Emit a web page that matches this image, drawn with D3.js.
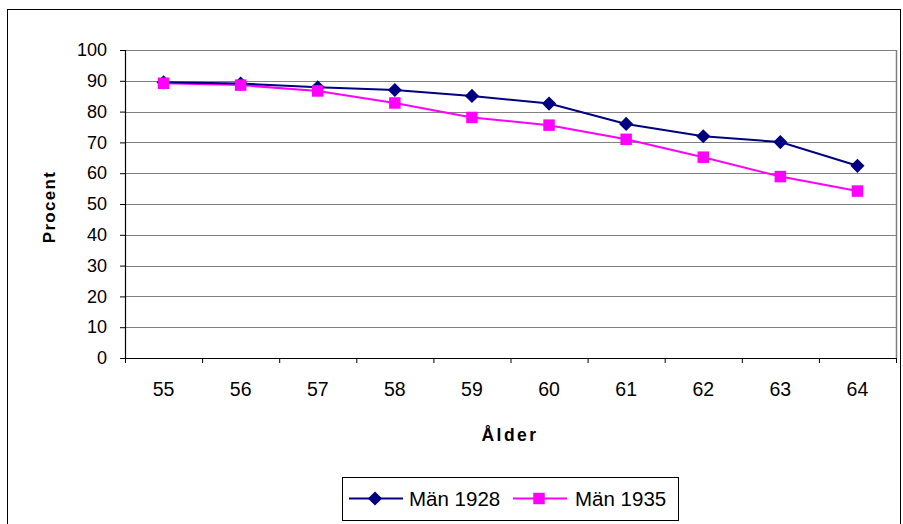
<!DOCTYPE html>
<html>
<head>
<meta charset="utf-8">
<script src="https://cdn.jsdelivr.net/npm/d3@7"></script>
<style>
  html, body { margin: 0; padding: 0; background: #fff; }
  svg { display: block; font-family: "Liberation Sans", Arial, sans-serif; }
</style>
</head>
<body>
<svg id="chart" width="903" height="524"></svg>
<script>
// Andel i arbetskraften per ålder, två födelsekohorter
const ages = [55, 56, 57, 58, 59, 60, 61, 62, 63, 64];
const man1928 = [89.5, 89.1, 87.9, 87.0, 85.1, 82.6, 76.0, 72.0, 70.1, 62.4];
const man1935 = [89.2, 88.6, 86.7, 82.8, 78.1, 75.6, 71.0, 65.2, 58.9, 54.2];
const yTicks = [0, 10, 20, 30, 40, 50, 60, 70, 80, 90, 100];
const seriesNames = ["Män 1928", "Män 1935"];

const svg = d3.select("#chart");
const W = 903, H = 524;
const plot = { left: 125, right: 896, top: 50, bottom: 358 };

// outer frame
svg.append("rect")
  .attr("x", 7.5).attr("y", 9.5)
  .attr("width", W - 10).attr("height", H)
  .attr("fill", "none").attr("stroke", "#000").attr("stroke-width", 1);

const x = d3.scaleBand().domain(ages).range([plot.left, plot.right]).padding(0);
const y = d3.scaleLinear().domain([0, 100]).range([plot.bottom, plot.top]);

// gridlines
svg.append("g").selectAll("line").data(yTicks.filter(t => t > 0)).join("line")
  .attr("x1", plot.left).attr("x2", plot.right)
  .attr("y1", d => Math.round(y(d)) + 0.5).attr("y2", d => Math.round(y(d)) + 0.5)
  .attr("stroke", "#808080").attr("stroke-width", 1);

// right edge of plot area
svg.append("line")
  .attr("x1", plot.right + 0.5).attr("x2", plot.right + 0.5)
  .attr("y1", plot.top).attr("y2", plot.bottom)
  .attr("stroke", "#808080").attr("stroke-width", 1.5);

// y axis
const yAxis = svg.append("g")
  .attr("transform", `translate(${plot.left},0)`)
  .call(d3.axisLeft(y).tickValues(yTicks).tickSize(5).tickPadding(13).tickFormat(d3.format("d")));
yAxis.select(".domain").attr("stroke", "#000").attr("stroke-width", 1.2);
yAxis.selectAll(".tick line").attr("stroke", "#000");
yAxis.selectAll("text").attr("font-size", 18).attr("fill", "#000")
  .attr("font-family", "Liberation Sans, Arial, sans-serif");

// x axis: ticks at category boundaries
const xAxisG = svg.append("g").attr("transform", `translate(0,${plot.bottom})`);
xAxisG.append("line")
  .attr("x1", plot.left).attr("x2", plot.right + 1)
  .attr("y1", 0.5).attr("y2", 0.5)
  .attr("stroke", "#000").attr("stroke-width", 1.2);
const bounds = ages.map(a => x(a)).concat([plot.right]);
xAxisG.selectAll("line.tk").data(bounds).join("line").attr("class", "tk")
  .attr("x1", d => d + 0.5).attr("x2", d => d + 0.5)
  .attr("y1", 0).attr("y2", 5)
  .attr("stroke", "#000");
xAxisG.selectAll("text").data(ages).join("text")
  .attr("x", d => x(d) + x.bandwidth() / 2)
  .attr("y", 38)
  .attr("text-anchor", "middle")
  .attr("font-size", 19.5)
  .attr("fill", "#000")
  .text(d => d);

// axis titles
svg.append("text")
  .attr("transform", `translate(55,207) rotate(-90)`)
  .attr("text-anchor", "middle")
  .attr("font-size", 17).attr("font-weight", "bold")
  .attr("letter-spacing", 1.3)
  .text("Procent");
svg.append("text")
  .attr("x", 510)
  .attr("y", 441)
  .attr("text-anchor", "middle")
  .attr("font-size", 17.5).attr("font-weight", "bold")
  .attr("letter-spacing", 2.5)
  .text("Ålder");

const cx = a => x(a) + x.bandwidth() / 2;
const line = d3.line().x(d => cx(d.age)).y(d => y(d.v));

// diamond = square turned 45°
const series = [
  { name: seriesNames[0], values: man1928, color: "#000080", size: 100, rot: 45 },
  { name: seriesNames[1], values: man1935, color: "#FF00FF", size: 132, rot: 0 }
];
const marker = d3.symbol().type(d3.symbolSquare);

// draw 1935 first so 1928 line sits on top where they overlap
[series[1], series[0]].forEach(s => {
  const pts = ages.map((a, i) => ({ age: a, v: s.values[i] }));
  svg.append("path").datum(pts)
    .attr("d", line)
    .attr("fill", "none").attr("stroke", s.color).attr("stroke-width", 2);
});
[series[0], series[1]].forEach(s => {
  const pts = ages.map((a, i) => ({ age: a, v: s.values[i] }));
  svg.append("g").selectAll("path").data(pts).join("path")
    .attr("transform", d => `translate(${cx(d.age)},${y(d.v)}) rotate(${s.rot})`)
    .attr("d", marker.size(s.size)())
    .attr("fill", s.color);
});

// legend
const lg = svg.append("g");
lg.append("rect")
  .attr("x", 342.5).attr("y", 477.5).attr("width", 336).attr("height", 43)
  .attr("fill", "#fff").attr("stroke", "#000").attr("stroke-width", 1);
const legendItems = [
  { s: series[0], x0: 349, tx: 409 },
  { s: series[1], x0: 513, tx: 575 }
];
legendItems.forEach(it => {
  const ly = 498.5;
  lg.append("line").attr("x1", it.x0).attr("x2", it.x0 + 54)
    .attr("y1", ly).attr("y2", ly)
    .attr("stroke", it.s.color).attr("stroke-width", 2);
  lg.append("path")
    .attr("transform", `translate(${it.x0 + 26},${ly}) rotate(${it.s.rot})`)
    .attr("d", marker.size(it.s.size)())
    .attr("fill", it.s.color);
  lg.append("text").attr("x", it.tx).attr("y", 505.5)
    .attr("font-size", 20.5).attr("fill", "#000")
    .text(it.s.name);
});
</script>
</body>
</html>
